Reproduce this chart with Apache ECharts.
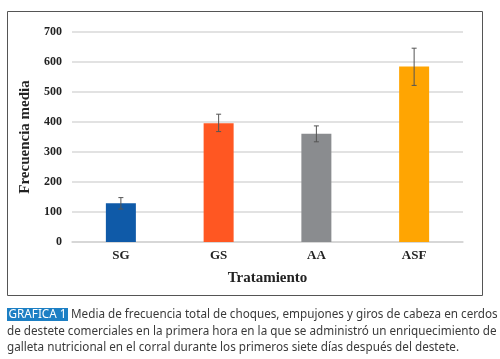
<!DOCTYPE html>
<html><head><meta charset="utf-8">
<script src="https://cdn.jsdelivr.net/npm/echarts@6/dist/echarts.min.js"></script>
<style>html,body{margin:0;padding:0;background:#fff}#c{width:500px;height:359px}</style>
</head><body><div id="c"></div>
<script>
const categories = ['SG', 'GS', 'AA', 'ASF'];
const means = [129, 396, 361, 585];
const errLow = [110, 368, 334, 522];
const errHigh = [148, 426, 387, 646];
const barColors = ['#0f5aa8', '#ff5722', '#8a8c8f', '#ffa502'];
const yTicks = [0, 100, 200, 300, 400, 500, 600, 700];
const captionLines = [
  'Media de frecuencia total de choques, empujones y giros de cabeza en cerdos',
  'de destete comerciales en la primera hora en la que se administró un enriquecimiento de',
  'galleta nutricional en el corral durante los primeros siete días después del destete.'
];

const chart = echarts.init(document.getElementById('c'));
const serif = '"Liberation Serif","DejaVu Serif",serif';
const capFont = '11.7px "Noto Sans"';
chart.setOption({
  animation: false,
  grid: { left: 72, right: 37, top: 32, bottom: 117 },
  xAxis: {
    type: 'category', data: categories,
    axisLine: { show: true, lineStyle: { color: '#d4d4d4', width: 1.5 } },
    axisTick: { show: false },
    axisLabel: { color: '#222', fontFamily: serif, fontWeight: 'bold', fontSize: 13, margin: 7 },
    name: 'Tratamiento', nameLocation: 'middle', nameGap: 29,
    nameTextStyle: { color: '#222', fontFamily: serif, fontWeight: 'bold', fontSize: 15 }
  },
  yAxis: {
    type: 'value', min: 0, max: 700, interval: 100,
    axisLine: { show: false }, axisTick: { show: false },
    splitLine: { lineStyle: { color: '#d9d9d9', width: 1.5 } },
    axisLabel: { color: '#222', fontFamily: serif, fontWeight: 'bold', fontSize: 12, margin: 10,
      formatter: v => yTicks.includes(v) ? String(v) : '' },
    name: 'Frecuencia media', nameLocation: 'middle', nameGap: 37, nameRotate: 90,
    nameTextStyle: { color: '#222', fontFamily: serif, fontWeight: 'bold', fontSize: 15 }
  },
  series: [
    {
      type: 'bar', barWidth: 30,
      data: means.map((v, i) => ({ value: v, itemStyle: { color: barColors[i] } }))
    },
    {
      type: 'custom', z: 10,
      data: categories.map((c, i) => [i, errLow[i], errHigh[i]]),
      renderItem: (params, api) => {
        const lo = api.coord([api.value(0), api.value(1)]);
        const hi = api.coord([api.value(0), api.value(2)]);
        const w = 2.5;
        const st = { stroke: '#555', lineWidth: 1 };
        return { type: 'group', children: [
          { type: 'line', shape: { x1: hi[0], y1: hi[1], x2: lo[0], y2: lo[1] }, style: st },
          { type: 'line', shape: { x1: hi[0] - w, y1: hi[1], x2: hi[0] + w, y2: hi[1] }, style: st },
          { type: 'line', shape: { x1: lo[0] - w, y1: lo[1], x2: lo[0] + w, y2: lo[1] }, style: st }
        ]};
      }
    }
  ],
  graphic: [
    { type: 'rect', shape: { x: 7.5, y: 11.5, width: 475, height: 284 },
      style: { fill: 'none', stroke: '#555', lineWidth: 1 }, silent: true },
    { type: 'rect', shape: { x: 7, y: 308, width: 61, height: 13 }, style: { fill: '#1c7fc4' } },
    { type: 'text', x: 37.5, y: 315, style: { text: 'GRÁFICA 1', fill: '#fff', font: capFont, align: 'center', verticalAlign: 'middle' } },
    { type: 'text', x: 71, y: 315, style: { text: captionLines[0], fill: '#3a3a3a', font: capFont, verticalAlign: 'middle' } },
    { type: 'text', x: 7, y: 332, style: { text: captionLines[1], fill: '#3a3a3a', font: capFont, verticalAlign: 'middle' } },
    { type: 'text', x: 7, y: 348, style: { text: captionLines[2], fill: '#3a3a3a', font: capFont, verticalAlign: 'middle' } }
  ]
});
</script></body></html>
